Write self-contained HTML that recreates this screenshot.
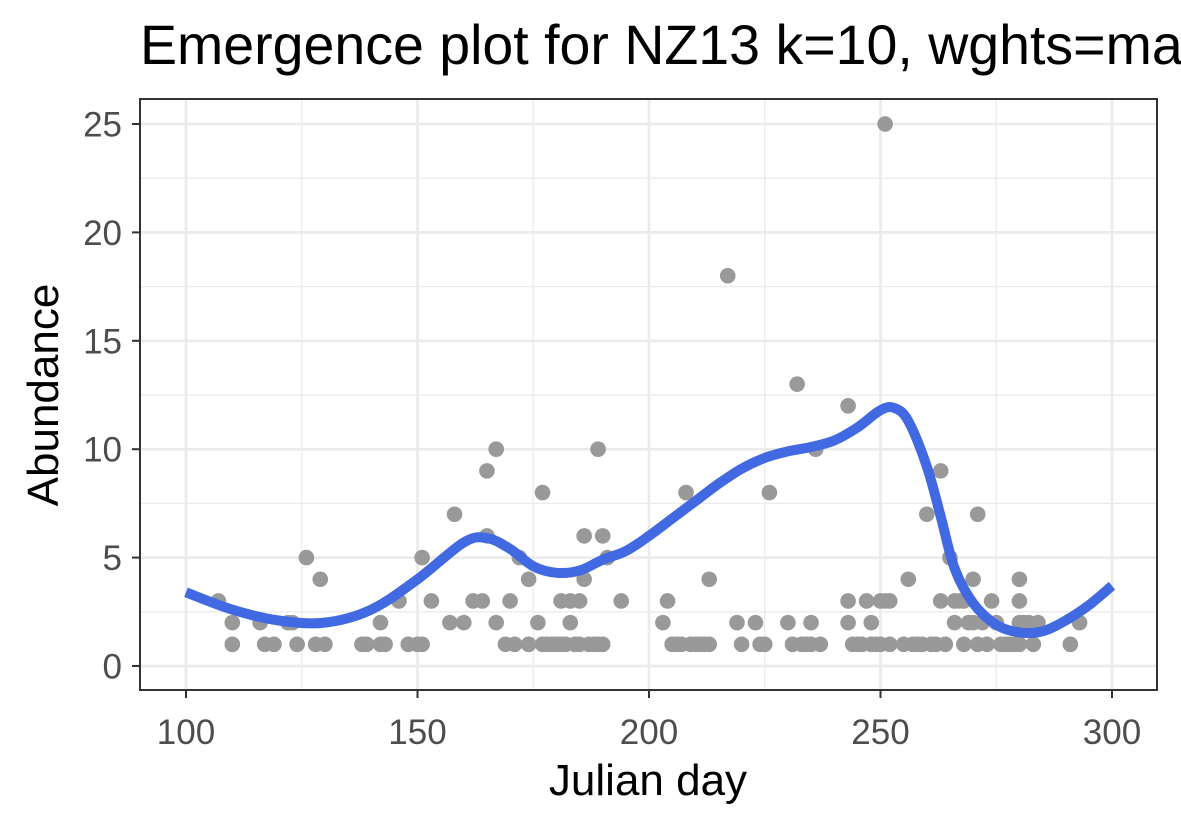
<!DOCTYPE html>
<html><head><meta charset="utf-8"><style>
html,body{margin:0;padding:0;background:#fff;overflow:hidden;}
svg{display:block;font-family:"Liberation Sans",Arial,sans-serif;}
</style></head><body>
<svg id="chart" width="1181" height="826" viewBox="0 0 1181 826">
<text x="140" y="64" font-size="55.5" fill="#000">Emergence plot for NZ13 k=10, wghts=max</text>
<rect x="140" y="99" width="1017" height="591" fill="#fff"/>
<g id="grid"></g>
<g id="points"></g>
<g id="curve"></g>
<rect x="140" y="99" width="1017" height="591" fill="none" stroke="#333" stroke-width="2"/>
<g id="axes"></g>
<text x="648" y="795" font-size="44" text-anchor="middle" fill="#000">Julian day</text>
<text transform="translate(58,395) rotate(-90)" font-size="44" text-anchor="middle" fill="#000">Abundance</text>
</svg>
<script>
const xTicks=[100,150,200,250,300];
const yTicks=[0,5,10,15,20,25];
const ptDays=[107,110,110,116,117,119,122,123,124,126,128,129,130,138,139,142,142,143,146,148,150,151,151,153,157,158,160,162,164,165,165,167,167,169,170,171,172,174,174,176,177,177,178,179,180,181,181,182,183,183,184,185,185,186,186,187,188,189,189,190,190,191,194,
203,204,205,206,207,208,209,210,211,212,213,213,217,219,220,223,224,225,226,230,231,232,233,234,235,235,236,237,243,243,243,244,245,246,247,248,248,249,250,250,251,251,252,252,
255,256,257,258,259,260,261,261,262,263,263,264,265,266,266,267,268,268,269,270,270,271,271,272,273,274,275,276,277,278,279,280,280,280,280,281,282,283,284,291,293];
const ptVals=[3,2,1,2,1,1,2,2,1,5,1,4,1,1,1,2,1,1,3,1,1,5,1,3,2,7,2,3,3,9,6,10,2,1,3,1,5,4,1,2,8,1,1,1,1,3,1,1,3,2,1,3,1,4,6,1,1,10,1,6,1,5,3,
2,3,1,1,1,8,1,1,1,1,4,1,18,2,1,2,1,1,8,2,1,13,1,1,2,1,10,1,12,3,2,1,1,1,3,2,1,1,3,1,25,3,1,3,
1,4,1,1,1,7,1,1,1,9,3,1,5,3,2,3,3,1,2,4,2,7,1,2,1,3,2,1,1,1,1,4,3,2,1,2,2,1,2,1,2];
const curveDays=[100,110,120,130,140,150,160,165,170,175,180,185,190,195,200,205,210,215,220,225,230,235,240,245,250,253,256,260,263,266,270,275,280,285,290,295,300];
const curveVals=[3.4,2.6,2.1,2.0,2.6,4.0,5.7,5.9,5.4,4.6,4.3,4.4,4.9,5.3,6.0,6.8,7.6,8.4,9.1,9.6,9.9,10.1,10.4,11.0,11.8,11.9,11.3,9.2,6.9,4.5,2.9,1.9,1.55,1.6,2.1,2.8,3.7];
const NS="http://www.w3.org/2000/svg";
const sx=d=>186+(d-100)*4.63;
const sy=v=>666-v*21.68;
function mk(tag,attrs,parent){const e=document.createElementNS(NS,tag);for(const k in attrs)e.setAttribute(k,attrs[k]);parent.appendChild(e);return e;}
const grid=document.getElementById('grid');
for(let i=0;i<xTicks.length-1;i++){const m=(xTicks[i]+xTicks[i+1])/2;
 const l=mk('line',{x1:sx(m),x2:sx(m),y1:100,y2:689,stroke:'#ebebeb','stroke-width':1.3},grid);
 
 }
for(let i=0;i<yTicks.length-1;i++){const m=(yTicks[i]+yTicks[i+1])/2;
 const l=mk('line',{x1:141,x2:1156,y1:sy(m),y2:sy(m),stroke:'#ebebeb','stroke-width':1.3},grid);
 
 }
xTicks.forEach(t=>{const l=mk('line',{x1:sx(t),x2:sx(t),y1:100,y2:689,stroke:'#ebebeb','stroke-width':2.7},grid);
 
 });
yTicks.forEach(t=>{const l=mk('line',{x1:141,x2:1156,y1:sy(t),y2:sy(t),stroke:'#ebebeb','stroke-width':2.7},grid);
 
 });
const pts=document.getElementById('points');
ptDays.forEach((d,i)=>{const c=mk('circle',{cx:sx(d),cy:sy(ptVals[i]),r:7.8,fill:'#999999'},pts);
 
 });
const cv=document.getElementById('curve');
const P=curveDays.map((d,i)=>[sx(d),sy(curveVals[i])]);
let dstr='M'+P[0][0].toFixed(1)+','+P[0][1].toFixed(1);
for(let i=0;i<P.length-1;i++){
 const p0=P[Math.max(0,i-1)],p1=P[i],p2=P[i+1],p3=P[Math.min(P.length-1,i+2)];
 const c1=[p1[0]+(p2[0]-p0[0])/6,p1[1]+(p2[1]-p0[1])/6];
 const c2=[p2[0]-(p3[0]-p1[0])/6,p2[1]-(p3[1]-p1[1])/6];
 dstr+='C'+c1[0].toFixed(1)+','+c1[1].toFixed(1)+' '+c2[0].toFixed(1)+','+c2[1].toFixed(1)+' '+p2[0].toFixed(1)+','+p2[1].toFixed(1);
}
const p=mk('path',{d:dstr,fill:'none',stroke:'#4169e1','stroke-width':10,'stroke-linejoin':'round'},cv);


const ax=document.getElementById('axes');
xTicks.forEach(t=>{const l=mk('line',{x1:sx(t),x2:sx(t),y1:690,y2:698,stroke:'#333','stroke-width':2},ax);
 
 
 const tx=mk('text',{x:sx(t),y:744,'font-size':35,'text-anchor':'middle',fill:'#4d4d4d'},ax);tx.textContent=t;
 
 });
yTicks.forEach(t=>{const l=mk('line',{x1:132,x2:140,y1:sy(t),y2:sy(t),stroke:'#333','stroke-width':2},ax);
 
 
 const tx=mk('text',{x:122,y:sy(t)+12.5,'font-size':35,'text-anchor':'end',fill:'#4d4d4d'},ax);tx.textContent=t;
 
 });
</script>
</body></html>
